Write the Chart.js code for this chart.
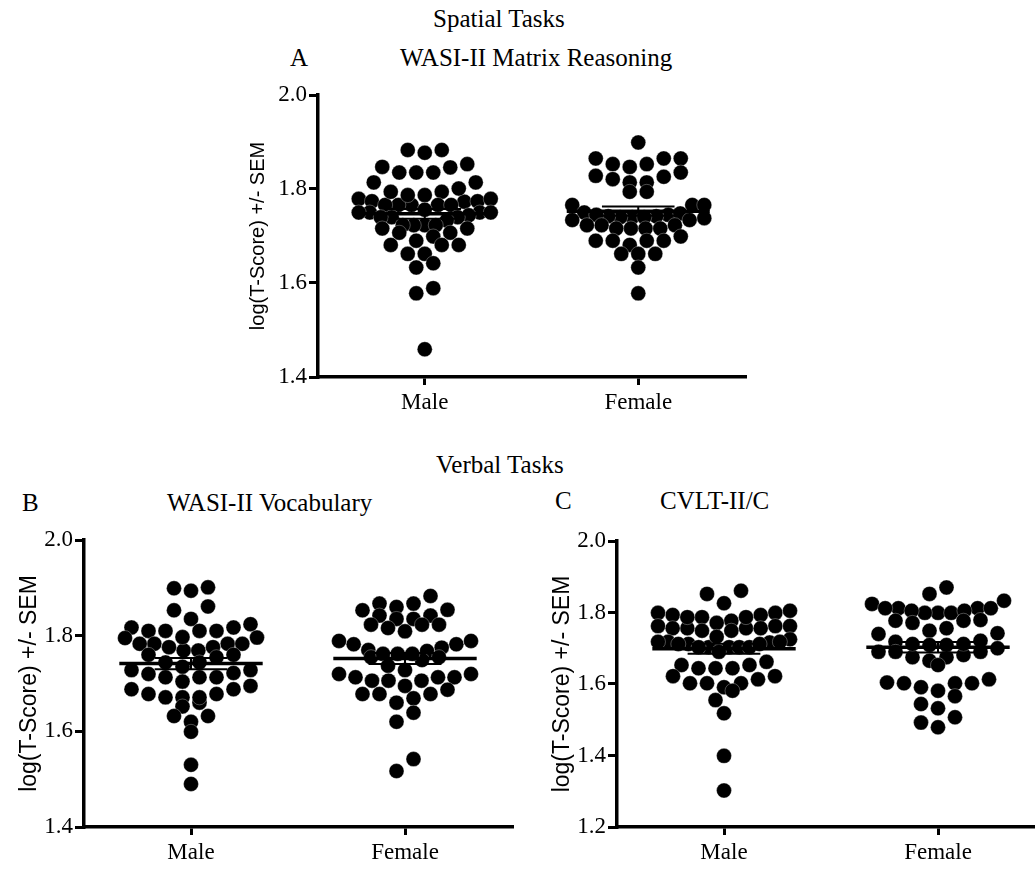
<!DOCTYPE html>
<html>
<head>
<meta charset="utf-8">
<script src="https://cdn.jsdelivr.net/npm/chart.js@4.4.0/dist/chart.umd.min.js"></script>
<style>
body { margin: 0; width: 1035px; height: 869px; overflow: hidden; background: #fff; position: relative; font-family: "Liberation Serif", serif; color: #000; }
.t { position: absolute; font-size: 25px; line-height: 1; white-space: nowrap; }
canvas { position: absolute; }
</style>
</head>
<body>
<div class="t" style="left:433px;top:6px">Spatial Tasks</div>
<div class="t" style="left:290px;top:45px">A</div>
<div class="t" style="left:400px;top:45px">WASI-II Matrix Reasoning</div>
<div class="t" style="left:436px;top:452px">Verbal Tasks</div>
<div class="t" style="left:22px;top:490px">B</div>
<div class="t" style="left:167px;top:490px">WASI-II Vocabulary</div>
<div class="t" style="left:555px;top:488px">C</div>
<div class="t" style="left:660px;top:488px">CVLT-II/C</div>

<canvas id="chartA" width="560" height="360" style="left:200px;top:70px"></canvas>
<canvas id="chartB" width="530" height="349" style="left:0px;top:520px"></canvas>
<canvas id="chartC" width="530" height="349" style="left:530px;top:520px"></canvas>

<script>
const categories = ['Male', 'Female']
const ticksAB = [1.4, 1.6, 1.8, 2.0]
const ticksC = [1.2, 1.4, 1.6, 1.8, 2.0]

// A - WASI-II Matrix Reasoning
const matrixMale = [1.883, 1.877, 1.883, 1.846, 1.835, 1.835, 1.853, 1.835, 1.847, 1.814, 1.814,
    1.794, 1.787, 1.779, 1.773, 1.774, 1.766, 1.766, 1.766, 1.766, 1.766, 1.774, 1.779, 1.787, 1.794, 1.801,
    1.756, 1.750, 1.750, 1.750, 1.750, 1.744, 1.740, 1.740, 1.740, 1.733, 1.723, 1.723, 1.723, 1.723,
    1.716, 1.716, 1.707, 1.707, 1.690, 1.699, 1.681, 1.681, 1.681, 1.662, 1.662, 1.633, 1.642, 1.589, 1.578, 1.459]
const matrixFemale = [1.899, 1.865, 1.865, 1.865, 1.853, 1.853, 1.847, 1.835, 1.826, 1.828, 1.814, 1.814, 1.821,
    1.794, 1.794, 1.766, 1.766, 1.766, 1.750, 1.745, 1.742, 1.740, 1.740, 1.738, 1.740, 1.742, 1.745, 1.748,
    1.734, 1.734, 1.723, 1.723, 1.723, 1.716, 1.716, 1.716, 1.716, 1.690, 1.690, 1.690, 1.690, 1.699,
    1.681, 1.662, 1.662, 1.662, 1.633, 1.578]

// B - WASI-II Vocabulary
const vocabMale = [1.899, 1.894, 1.901, 1.853, 1.861, 1.835, 1.817, 1.810, 1.810, 1.810, 1.810, 1.817, 1.824,
    1.795, 1.796, 1.783, 1.783, 1.776, 1.769, 1.769, 1.776, 1.783, 1.783, 1.797, 1.760, 1.755, 1.760,
    1.744, 1.744, 1.728, 1.728, 1.735, 1.720, 1.713, 1.713, 1.713, 1.722, 1.695, 1.688, 1.688, 1.704,
    1.678, 1.671, 1.660, 1.652, 1.671, 1.671, 1.678, 1.632, 1.620, 1.632, 1.599, 1.530, 1.490]
const vocabFemale = [1.883, 1.853, 1.867, 1.860, 1.867, 1.854, 1.842, 1.835, 1.835, 1.842, 1.816, 1.823, 1.823,
    1.823, 1.809, 1.789, 1.782, 1.782, 1.789, 1.775, 1.768, 1.770, 1.762, 1.755, 1.749, 1.755, 1.762, 1.762,
    1.737, 1.728, 1.720, 1.713, 1.713, 1.706, 1.706, 1.706, 1.713, 1.720, 1.695, 1.678, 1.678, 1.660,
    1.669, 1.678, 1.687, 1.639, 1.620, 1.542, 1.517]

// C - CVLT-II/C
const cvltMale = [1.852, 1.861, 1.826, 1.799, 1.793, 1.793, 1.799, 1.805, 1.787, 1.777, 1.762, 1.762, 1.756,
    1.756, 1.749, 1.749, 1.756, 1.756, 1.762, 1.771, 1.787, 1.787, 1.725, 1.716, 1.718, 1.712, 1.703, 1.703,
    1.703, 1.703, 1.703, 1.712, 1.712, 1.718, 1.718, 1.732, 1.690, 1.653, 1.644, 1.644, 1.644, 1.653, 1.662,
    1.622, 1.613, 1.602, 1.591, 1.622, 1.602, 1.602, 1.581, 1.555, 1.518, 1.399, 1.302]
const cvltFemale = [1.870, 1.852, 1.833, 1.824, 1.799, 1.799, 1.799, 1.812, 1.812, 1.812, 1.812, 1.805, 1.805,
    1.777, 1.771, 1.779, 1.777, 1.749, 1.740, 1.756, 1.742, 1.718, 1.690, 1.690, 1.675, 1.665, 1.653, 1.675,
    1.681, 1.690, 1.700, 1.721, 1.712, 1.712, 1.709, 1.709, 1.613, 1.602, 1.602, 1.604, 1.602, 1.581, 1.591,
    1.566, 1.544, 1.532, 1.507, 1.492, 1.479]

function stats(v) {
    const n = v.length
    const m = v.reduce((a, b) => a + b, 0) / n
    const sd = Math.sqrt(v.reduce((a, b) => a + (b - m) ** 2, 0) / (n - 1))
    return { m, se: sd / Math.sqrt(n) }
}

// GraphPad-style scatter: group values into rows, spread each row around the centre
function swarm(values, yScale, unitPx) {
    const gap = 17, maxHalf = 66, binH = 13
    const order = values.map((v, i) => i).sort((a, b) => values[b] - values[a])
    const offs = new Array(values.length).fill(0)
    let row = [], startPy = null
    const flush = () => {
        const r = row.slice().sort((a, b) => values[a] - values[b])
        const n = r.length
        const s = n > 1 ? Math.min(gap, 2 * maxHalf / (n - 1)) : 0
        const slots = []
        for (let k = 0; k < n; k++) slots.push((k - (n - 1) / 2) * s)
        slots.sort((a, b) => Math.abs(a) - Math.abs(b))
        r.forEach((i, k) => { offs[i] = slots[k] / unitPx })
    }
    order.forEach(i => {
        const py = yScale.getPixelForValue(values[i])
        if (startPy === null || py - startPy > binH) {
            if (row.length) flush()
            row = []
            startPy = py
        }
        row.push(i)
    })
    if (row.length) flush()
    return offs
}

const serif = 'Liberation Serif'

function panel(id, male, female, yTicks, o) {
    const datasets = []
    ;[male, female].forEach((vals, g) => {
        const { m, se } = stats(vals)
        const seg = (x0, x1, y0, y1, w) => ({
            type: 'line', data: [{ x: g + x0, y: y0 }, { x: g + x1, y: y1 }],
            borderColor: '#000', borderWidth: w, pointRadius: 0, order: 1, clip: false
        })
        datasets.push(seg(-0.335, 0.335, m, m, 3.5))
        datasets.push(seg(-0.17, 0.17, m + se, m + se, 2))
        datasets.push(seg(-0.17, 0.17, m - se, m - se, 2))
        datasets.push(seg(0, 0, m - se, m + se, 2))
        datasets.push({
            type: 'scatter', data: vals.map(v => ({ x: g, y: v })), vals: vals, group: g,
            backgroundColor: '#000', borderColor: 'rgba(255,255,255,0.5)', borderWidth: 0.6, pointRadius: 7.5, order: 2, clip: false
        })
    })

    const chart = new Chart(document.getElementById(id), {
        type: 'scatter',
        data: { datasets },
        options: {
            responsive: false,
            animation: false,
            events: [],
            layout: { padding: { top: o.top, right: o.right, left: 0, bottom: 0 } },
            plugins: { legend: { display: false }, tooltip: { enabled: false } },
            scales: {
                x: {
                    type: 'linear', min: -0.5, max: 1.5,
                    afterBuildTicks: s => { s.ticks = categories.map((c, i) => ({ value: i })) },
                    ticks: { callback: v => categories[v], color: '#000', font: { family: serif, size: 23 }, padding: 4, maxRotation: 0, autoSkip: false },
                    grid: { drawOnChartArea: false, color: '#000', lineWidth: 3, tickLength: 8 },
                    border: { color: '#000', width: 3.5 },
                    afterFit: s => { s.height = o.xh }
                },
                y: {
                    min: yTicks[0], max: yTicks[yTicks.length - 1],
                    afterBuildTicks: s => { s.ticks = yTicks.map(v => ({ value: v })) },
                    ticks: { callback: v => v.toFixed(1), color: '#000', font: { family: serif, size: 23 }, padding: 2 },
                    grid: { drawOnChartArea: false, color: '#000', lineWidth: 3, tickLength: 9 },
                    border: { color: '#000', width: 3.5 },
                    title: { display: true, text: 'log(T-Score) +/- SEM', color: '#000', font: { family: 'Liberation Sans', size: o.tf }, padding: { top: o.tp, bottom: 0 } },
                    afterFit: s => { s.width = o.yw }
                }
            }
        }
    })

    const xs = chart.scales.x, ys = chart.scales.y
    const unit = xs.getPixelForValue(1) - xs.getPixelForValue(0)
    chart.data.datasets.forEach(ds => {
        if (!ds.vals) return
        const off = swarm(ds.vals, ys, unit)
        ds.data = ds.vals.map((v, i) => ({ x: ds.group + off[i], y: v }))
    })
    chart.update('none')
}

panel('chartA', matrixMale, matrixFemale, ticksAB, { top: 25, right: 15, xh: 53, yw: 118, tf: 20, tp: 46 })
panel('chartB', vocabMale, vocabFemale, ticksAB, { top: 20, right: 18, xh: 42, yw: 84, tf: 23, tp: 16 })
panel('chartC', cvltMale, cvltFemale, ticksC, { top: 21, right: 15, xh: 42, yw: 87, tf: 23, tp: 19 })
</script>
</body>
</html>
